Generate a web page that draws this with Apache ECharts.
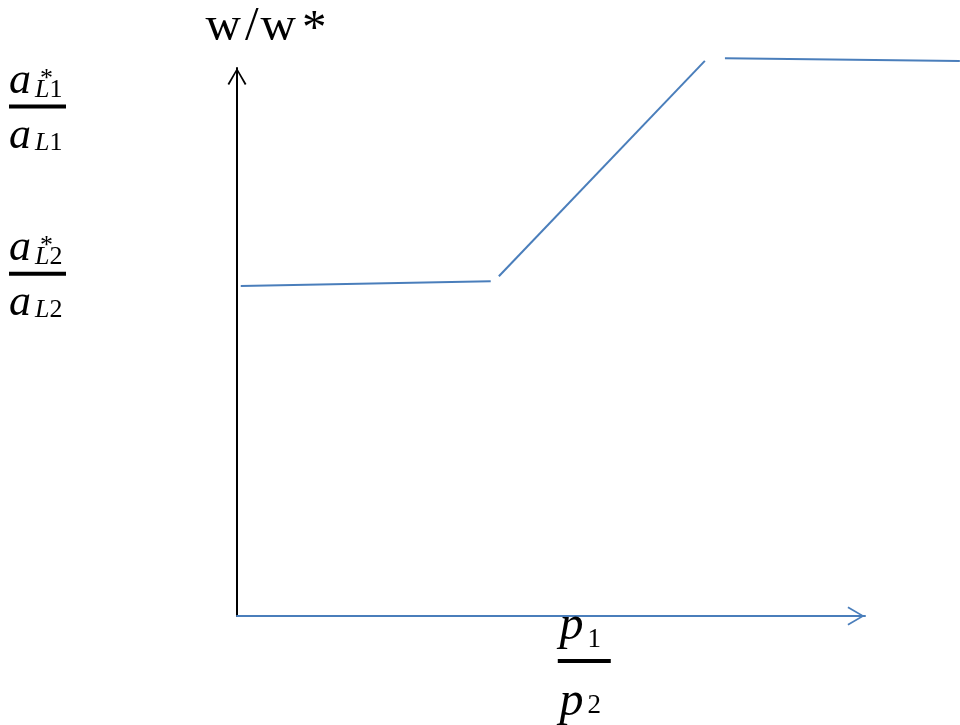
<!DOCTYPE html>
<html>
<head>
<meta charset="utf-8">
<script src="https://cdn.jsdelivr.net/npm/echarts@6/dist/echarts.min.js"></script>
<style>html,body{margin:0;padding:0;background:#fff}#c{width:960px;height:725px}</style>
</head>
<body>
<div id="c"></div>
<script>
// ---- data (diagram units: x = p1/p2, y = w/w*) ----
const lowX  = [0.06, 4.04];
const lowY  = [6.02, 6.11];
const riseX = [4.17, 7.45];
const riseY = [6.20, 10.13];
const highX = [7.77, 11.51];
const highY = [10.18, 10.13];

// tick label positions and their subscripts
const yLabelValues = [6.20, 9.25];
const yLabelSubs   = ['2', '1'];
const xLabelValues = [5.53];
const yAxisName    = 'w/w*';

const SERIF = "'Liberation Serif','Times New Roman',serif";
const BLUE = '#4A7EBB';
const ARROW = 'path://M10,0 L20,17 L18.3,18 L10,3.3 L1.7,18 L0,17 Z';

// plot geometry: arrowed axes end at x=865 px; the curve continues to the page edge
const GRID = {left: 237, top: 68, bottom: 109};
const AXIS_RIGHT = 95;
const X_MAX = 10;
const X_MAX_DATA = X_MAX * (960 - GRID.left) / (960 - AXIS_RIGHT - GRID.left);

function pts(xs, ys) { return xs.map((x, i) => [x, ys[i]]); }

const chart = echarts.init(document.getElementById('c'), null, {renderer: 'canvas'});

const lineSeries = [pts(lowX, lowY), pts(riseX, riseY), pts(highX, highY)].map(d => ({
  type: 'line', data: d, showSymbol: false, clip: false, silent: true,
  xAxisIndex: 0, yAxisIndex: 0,
  lineStyle: {color: BLUE, width: 2}
}));

const nameTokens = ['w1', 'sl', 'w2', 'st'];
const nameRich = '{' + nameTokens.map((t, i) => t + '|' + yAxisName[i]).join('}{') + '}';

chart.setOption({
  animation: false,
  backgroundColor: '#fff',
  grid: [
    Object.assign({right: 0, containLabel: false, outerBoundsMode: 'none'}, GRID),
    Object.assign({right: AXIS_RIGHT, containLabel: false, outerBoundsMode: 'none'}, GRID)
  ],
  xAxis: [{
    gridIndex: 0, type: 'value', min: 0, max: X_MAX_DATA, show: false
  }, {
    gridIndex: 1, type: 'value', min: 0, max: X_MAX,
    splitLine: {show: false},
    axisTick: {show: false},
    axisLine: {show: true, onZero: false, lineStyle: {color: BLUE, width: 2},
      symbol: ['none', ARROW], symbolSize: [19, 18], symbolOffset: [0, -9]},
    axisLabel: {
      customValues: xLabelValues,
      margin: -21,
      formatter: () => '{p|p}{s|1}\n{bar| }\n{p2|p}{s2|2}',
      rich: {
        p:  {fontFamily: SERIF, fontStyle: 'italic', fontSize: 48, lineHeight: 48, verticalAlign: 'top', padding: [7, 0, 0, 0], color: '#000'},
        s:  {fontFamily: SERIF, fontSize: 27, lineHeight: 48, verticalAlign: 'top', padding: [31.5, 8, 0, 4], color: '#000'},
        bar:{fontSize: 4, lineHeight: 20, verticalAlign: 'bottom', width: 53, backgroundColor: '#000'},
        p2: {fontFamily: SERIF, fontStyle: 'italic', fontSize: 48, lineHeight: 50, verticalAlign: 'top', padding: [15.6, 0, 0, 0], color: '#000'},
        s2: {fontFamily: SERIF, fontSize: 27, lineHeight: 50, verticalAlign: 'top', padding: [29.5, 8, 0, 4], color: '#000'}
      }
    }
  }],
  yAxis: [{
    gridIndex: 0, type: 'value', min: 0, max: 10, show: false
  }, {
    gridIndex: 1, type: 'value', min: 0, max: 10,
    splitLine: {show: false},
    axisTick: {show: false},
    axisLine: {show: true, onZero: false, lineStyle: {color: '#000', width: 2},
      symbol: ['none', ARROW], symbolSize: [19, 17], symbolOffset: [0, -8.5]},
    name: nameRich,
    nameLocation: 'end',
    nameGap: 16,
    nameTextStyle: {
      fontFamily: SERIF, fontSize: 49, lineHeight: 49, color: '#000', padding: [0, 0, 0, 58],
      rich: {
        w1: {fontFamily: SERIF, fontSize: 49, lineHeight: 49, padding: [0, 4, 0, 0], color: '#000'},
        sl: {fontFamily: SERIF, fontSize: 49, lineHeight: 49, padding: [0, 2, 0, 0], color: '#000'},
        w2: {fontFamily: SERIF, fontSize: 49, lineHeight: 49, padding: [0, 6, 0, 0], color: '#000'},
        st: {fontFamily: SERIF, fontSize: 49, lineHeight: 49, padding: [6, 0, 0, 0], color: '#000'}
      }
    },
    axisLabel: {
      customValues: yLabelValues,
      align: 'left',
      margin: 228,
      formatter: (v) => {
        let k = 0, best = Infinity;
        yLabelValues.forEach((t, i) => { if (Math.abs(t - v) < best) { best = Math.abs(t - v); k = i; } });
        const n = yLabelSubs[k];
        return '{star|*}\n{a|a}{L|L}{n|' + n + '}\n{bar| }\n{a2|a}{L2|L}{n2|' + n + '}';
      },
      rich: {
        star:{fontFamily: SERIF, fontSize: 26, lineHeight: 2, verticalAlign: 'top', padding: [8.2, 0, 0, 31], color: '#000'},
        a:   {fontFamily: SERIF, fontStyle: 'italic', fontSize: 44, lineHeight: 44, verticalAlign: 'top', color: '#000'},
        L:   {fontFamily: SERIF, fontStyle: 'italic', fontSize: 26, lineHeight: 44, verticalAlign: 'top', padding: [17.4, 0, 0, 4], color: '#000'},
        n:   {fontFamily: SERIF, fontSize: 26, lineHeight: 44, verticalAlign: 'top', padding: [17.4, 0, 0, 0], color: '#000'},
        bar: {fontSize: 4, lineHeight: 5, verticalAlign: 'bottom', width: 57, backgroundColor: '#000'},
        a2:  {fontFamily: SERIF, fontStyle: 'italic', fontSize: 44, lineHeight: 52, verticalAlign: 'top', padding: [6, 0, 0, 0], color: '#000'},
        L2:  {fontFamily: SERIF, fontStyle: 'italic', fontSize: 26, lineHeight: 52, verticalAlign: 'top', padding: [21.4, 0, 0, 4], color: '#000'},
        n2:  {fontFamily: SERIF, fontSize: 26, lineHeight: 52, verticalAlign: 'top', padding: [21.4, 0, 0, 0], color: '#000'}
      }
    }
  }],
  series: lineSeries
});
</script>
</body>
</html>
